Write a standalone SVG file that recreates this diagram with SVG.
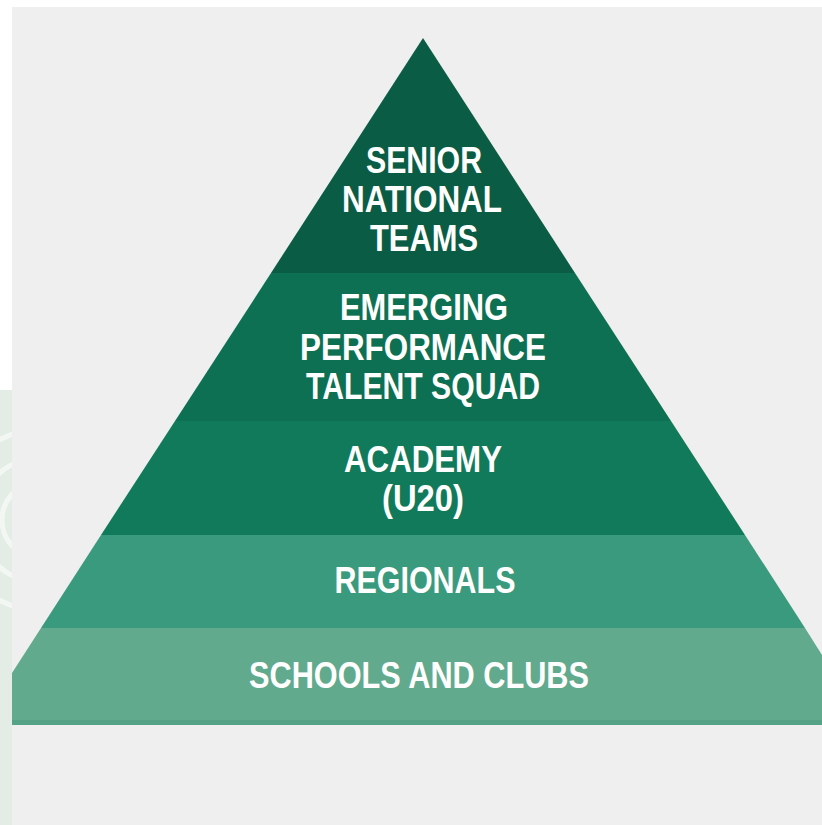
<svg xmlns="http://www.w3.org/2000/svg" width="822" height="825" viewBox="0 0 822 825">
  <style>
    .lbl { font-family: "Liberation Sans", Arial, sans-serif; font-weight: bold; font-size: 36px; fill: #ffffff; text-anchor: middle; }
  </style>
  <defs>
    <clipPath id="strip"><rect x="0" y="390" width="12" height="435"/></clipPath>
  </defs>
  <rect x="0" y="0" width="822" height="825" fill="#ffffff"/>
  <rect x="12" y="7" width="810" height="818" fill="#efefef"/>
  <g id="watermark" clip-path="url(#strip)">
    <rect x="0" y="390" width="12" height="435" fill="#e3ede5"/>
    <g fill="none" stroke="#f3f7f3" stroke-width="5">
      <circle cx="40" cy="520" r="38"/>
      <circle cx="40" cy="520" r="62"/>
      <circle cx="40" cy="520" r="90"/>
    </g>
  </g>
  <g id="senior-national-teams">
    <polygon points="423,38 575,273 271,273" fill="#0b5c44"/>
    <text class="lbl" x="424" y="173" textLength="116" lengthAdjust="spacingAndGlyphs">SENIOR</text>
    <text class="lbl" x="422" y="212" textLength="160" lengthAdjust="spacingAndGlyphs">NATIONAL</text>
    <text class="lbl" x="424" y="251" textLength="108" lengthAdjust="spacingAndGlyphs">TEAMS</text>
  </g>
  <g id="emerging-performance">
    <polygon points="271,273 575,273 671,421 175,421" fill="#0e7052"/>
    <text class="lbl" x="424" y="320" textLength="168" lengthAdjust="spacingAndGlyphs">EMERGING</text>
    <text class="lbl" x="423" y="360" textLength="246" lengthAdjust="spacingAndGlyphs">PERFORMANCE</text>
    <text class="lbl" x="423" y="399" textLength="234" lengthAdjust="spacingAndGlyphs">TALENT SQUAD</text>
  </g>
  <g id="academy">
    <polygon points="175,421 671,421 745,535 101,535" fill="#117a5b"/>
    <text class="lbl" x="423" y="472" textLength="158" lengthAdjust="spacingAndGlyphs">ACADEMY</text>
    <text class="lbl" x="423" y="511" textLength="82" lengthAdjust="spacingAndGlyphs">(U20)</text>
  </g>
  <g id="regionals">
    <polygon points="101,535 745,535 805,628 41,628" fill="#3a9a7d"/>
    <text class="lbl" x="425" y="593" textLength="181" lengthAdjust="spacingAndGlyphs">REGIONALS</text>
  </g>
  <g id="schools-and-clubs">
    <polygon points="41,628 805,628 822,655 822,725 12,725 12,673" fill="#61aa8e"/>
    <rect x="12" y="720" width="810" height="5" fill="#55a386"/>
    <text class="lbl" x="419" y="688" textLength="340" lengthAdjust="spacingAndGlyphs">SCHOOLS AND CLUBS</text>
  </g>
  <g id="connectors"/>
</svg>
